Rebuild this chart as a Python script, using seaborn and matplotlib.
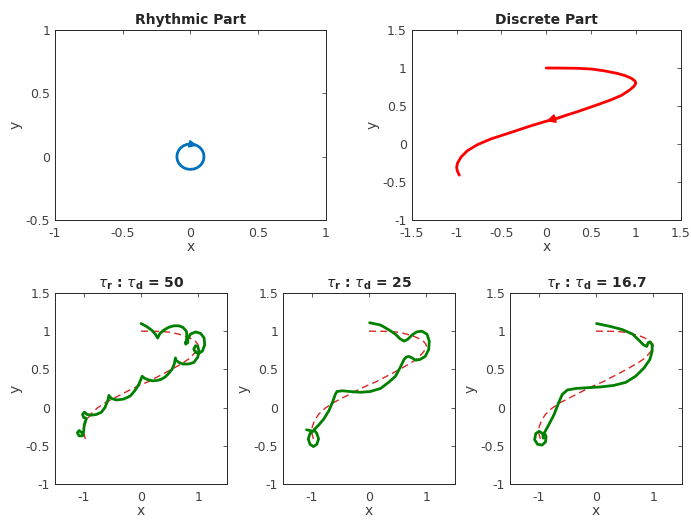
import numpy as np
import matplotlib
matplotlib.use("Agg")
import matplotlib.pyplot as plt
import seaborn as sns

# -------------------------
# DATA
# -------------------------

# rhythmic part: small clockwise circle round the origin
rhythm_x = [0.0, 0.026, 0.05, 0.071, 0.087, 0.097, 0.1, 0.097, 0.087, 0.071, 0.05, 0.026,
            0.0, -0.026, -0.05, -0.071, -0.087, -0.097, -0.1, -0.097, -0.087, -0.071, -0.05, -0.026, 0.0]
rhythm_y = [0.1, 0.097, 0.087, 0.071, 0.05, 0.026, 0.0, -0.026, -0.05, -0.071, -0.087, -0.097,
            -0.1, -0.097, -0.087, -0.071, -0.05, -0.026, 0.0, 0.026, 0.05, 0.071, 0.087, 0.097, 0.1]

# discrete part
disc_x = [0.0, 0.18, 0.36, 0.52, 0.66, 0.79, 0.88, 0.95, 0.99, 1.0, 0.98, 0.93, 0.84, 0.72, 0.58,
          0.47, 0.36, 0.24, 0.13, 0.0, -0.17, -0.39, -0.62, -0.77, -0.88, -0.95, -0.99, -1.0, -0.99, -0.97]
disc_y = [1.0, 0.999, 0.996, 0.985, 0.96, 0.93, 0.90, 0.865, 0.83, 0.80, 0.76, 0.71, 0.64, 0.58, 0.52,
          0.475, 0.43, 0.385, 0.34, 0.30, 0.24, 0.154, 0.066, -0.01, -0.088, -0.17, -0.25, -0.31, -0.36, -0.41]

# combined trajectories for tau_r : tau_d = 50, 25, 16.7
r50_x = [0.0, 0.10, 0.19, 0.25, 0.29, 0.33, 0.39, 0.48, 0.57, 0.66, 0.73, 0.79, 0.80, 0.79, 0.77,
         0.78, 0.815, 0.815, 0.86, 0.95, 1.04, 1.10, 1.11, 1.07, 1.01, 0.95, 0.92, 0.95, 0.99, 1.01,
         0.99, 0.92, 0.83, 0.73, 0.66, 0.61, 0.60, 0.58, 0.54, 0.48, 0.42, 0.35, 0.28, 0.20, 0.12,
         0.06, 0.02, -0.04, -0.11, -0.19, -0.31, -0.43, -0.52, -0.56, -0.58, -0.63, -0.69, -0.78,
         -0.87, -0.94, -0.99, -1.02, -1.0, -0.95, -0.99, -1.0, -1.02, -1.08, -1.11, -1.08, -1.03]
r50_y = [1.10, 1.06, 1.01, 0.96, 0.91, 0.97, 1.01, 1.05, 1.07, 1.07, 1.05, 1.0, 0.94, 0.87, 0.85,
         0.83, 0.85, 0.89, 0.96, 0.99, 0.97, 0.91, 0.82, 0.74, 0.71, 0.72, 0.765, 0.81, 0.80, 0.74,
         0.66, 0.59, 0.57, 0.57, 0.59, 0.62, 0.65, 0.57, 0.50, 0.445, 0.40, 0.37, 0.355, 0.35, 0.365,
         0.385, 0.41, 0.30, 0.22, 0.15, 0.11, 0.10, 0.12, 0.16, 0.09, 0.0, -0.06, -0.09,
         -0.10, -0.09, -0.06, -0.09, -0.13, -0.14, -0.22, -0.31, -0.37, -0.37, -0.33, -0.30, -0.33]

r25_x = [0.01, 0.20, 0.34, 0.46, 0.54, 0.61, 0.67, 0.75, 0.83, 0.92, 1.01, 1.05, 1.04, 0.98, 0.89,
         0.81, 0.75, 0.69, 0.65, 0.61, 0.54, 0.46, 0.34, 0.20, 0.02, -0.15, -0.33, -0.47, -0.56,
         -0.59, -0.64, -0.70, -0.79, -0.88, -0.96, -0.91, -0.88, -0.91, -0.97, -1.03, -1.06, -1.03,
         -0.98, -1.09]
r25_y = [1.11, 1.08, 1.02, 0.96, 0.90, 0.87, 0.89, 0.95, 0.99, 1.0, 0.96, 0.87, 0.76, 0.67, 0.63,
         0.62, 0.65, 0.67, 0.66, 0.63, 0.52, 0.41, 0.33, 0.25, 0.21, 0.20, 0.21, 0.22, 0.21,
         0.17, 0.065, -0.04, -0.15, -0.23, -0.29, -0.34, -0.41, -0.48, -0.51, -0.48, -0.41, -0.34,
         -0.31, -0.29]

r17_x = [0.01, 0.26, 0.46, 0.64, 0.75, 0.83, 0.885, 0.91, 0.94, 0.98, 0.98, 0.94, 0.84, 0.69, 0.52,
         0.31, 0.08, -0.15, -0.35, -0.50, -0.59, -0.65, -0.73, -0.82, -0.90, -0.87, -0.88, -0.94,
         -1.02, -1.07, -1.05, -0.99, -0.93, -0.92]
r17_y = [1.10, 1.06, 1.02, 0.96, 0.88, 0.82, 0.80, 0.85, 0.86, 0.82, 0.74, 0.63, 0.52, 0.41, 0.33,
         0.29, 0.27, 0.26, 0.25, 0.23, 0.17, 0.065, -0.09, -0.22, -0.33, -0.38, -0.45, -0.49,
         -0.48, -0.42, -0.34, -0.31, -0.34, -0.40]

ratio_labels = ["50", "25", "16.7"]

# -------------------------
# STYLE
# -------------------------
sns.set_style("white")
plt.rcParams["font.family"] = ["DejaVu Sans"]
plt.rcParams["font.size"] = 9
plt.rcParams["lines.solid_joinstyle"] = "round"
plt.rcParams["lines.solid_capstyle"] = "round"

blue = (0.0, 0.447, 0.741)
green = (0.0, 0.5, 0.0)
tick_col = "#404040"


def matlab_axes(ax, xlim, ylim, xticks, yticks):
    ax.set_xlim(*xlim)
    ax.set_ylim(*ylim)
    ax.set_xticks(xticks)
    ax.set_yticks(yticks)
    ax.set_xticklabels([f"{t:g}" for t in xticks])
    ax.set_yticklabels([f"{t:g}" for t in yticks])
    ax.tick_params(direction="in", top=True, right=True, length=3, width=0.6,
                   labelsize=9, colors=tick_col)
    ax.tick_params(axis="x", pad=5)
    ax.tick_params(axis="y", pad=3.5)
    for s in ax.spines.values():
        s.set_color("#262626")
        s.set_linewidth(0.7)
    ax.set_xlabel("x", fontsize=10, color=tick_col, labelpad=0)
    ax.set_ylabel("y", fontsize=10, color=tick_col, labelpad=2)


fig = plt.figure(figsize=(6.91, 5.22), dpi=100)

# -------------------------
# TOP ROW
# -------------------------
ax1 = fig.add_axes([0.0796, 0.5785, 0.392, 0.364])
sns.lineplot(x=rhythm_x, y=rhythm_y, sort=False, estimator=None, color=blue, lw=2, ax=ax1)
ax1.annotate("", xy=(rhythm_x[2], rhythm_y[2]), xytext=(rhythm_x[0], rhythm_y[0]),
             arrowprops=dict(arrowstyle="-|>", color=blue, lw=1.5, mutation_scale=10,
                             shrinkA=0, shrinkB=0))
matlab_axes(ax1, (-1, 1), (-0.5, 1), [-1, -0.5, 0, 0.5, 1], [-0.5, 0, 0.5, 1])
ax1.set_title("Rhythmic Part", fontsize=10, fontweight="bold", pad=4)

ax2 = fig.add_axes([0.596, 0.5785, 0.389, 0.364])
sns.lineplot(x=disc_x, y=disc_y, sort=False, estimator=None, color="red", lw=2, ax=ax2)
ax2.annotate("", xy=(disc_x[19], disc_y[19]), xytext=(disc_x[17], disc_y[17]),
             arrowprops=dict(arrowstyle="-|>", color="red", lw=1.5, mutation_scale=12,
                             shrinkA=0, shrinkB=0))
matlab_axes(ax2, (-1.5, 1.5), (-1, 1.5), [-1.5, -1, -0.5, 0, 0.5, 1, 1.5],
            [-1, -0.5, 0, 0.5, 1, 1.5])
ax2.set_title("Discrete Part", fontsize=10, fontweight="bold", pad=4)

# -------------------------
# BOTTOM ROW
# -------------------------
lefts = [0.0796, 0.4096, 0.738]
combos = [(r50_x, r50_y), (r25_x, r25_y), (r17_x, r17_y)]
for left, (cx, cy), lab in zip(lefts, combos, ratio_labels):
    ax = fig.add_axes([left, 0.0728, 0.249, 0.366])
    sns.lineplot(x=disc_x, y=disc_y, sort=False, estimator=None, color=(0.85, 0.15, 0.15),
                 lw=1, ax=ax)
    ax.lines[-1].set_dashes([5, 3])
    sns.lineplot(x=cx, y=cy, sort=False, estimator=None, color=green, lw=2, ax=ax)
    matlab_axes(ax, (-1.5, 1.5), (-1, 1.5), [-1, 0, 1], [-1, -0.5, 0, 0.5, 1, 1.5])
    ax.set_title(r"$\tau_{\mathbf{r}}$ : $\tau_{\mathbf{d}}$ = " + lab,
                 fontsize=10, fontweight="bold", pad=4)

fig.savefig("out.png", dpi=100)
plt.close(fig)
